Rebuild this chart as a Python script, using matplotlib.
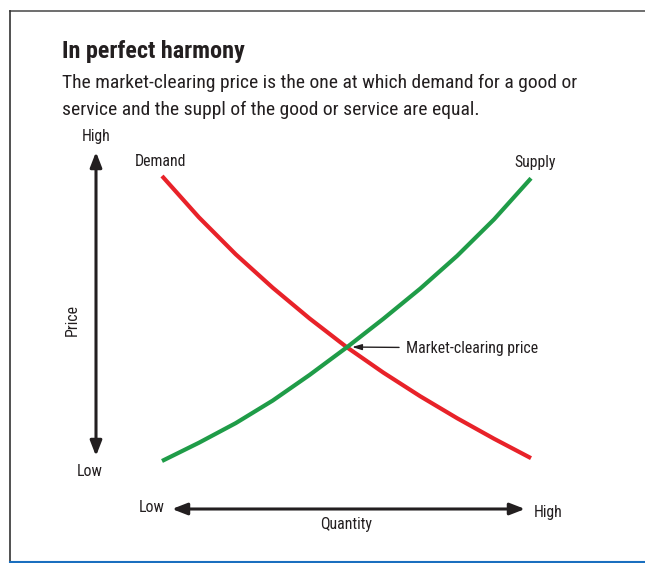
import matplotlib
matplotlib.use("Agg")
import matplotlib.pyplot as plt
from matplotlib import font_manager as fm
from matplotlib.lines import Line2D
from matplotlib.patches import FancyArrowPatch

# ----------------- Data -----------------
quantity = [0, 1, 2, 3, 4, 5, 6, 7, 8, 9, 10]
demand_p = [10.0, 8.55, 7.25, 6.08, 5.0, 4.0, 3.1, 2.27, 1.5, 0.78, 0.1]
supply_p = [0.0, 0.64, 1.33, 2.12, 3.02, 3.98, 4.99, 6.05, 7.20, 8.48, 9.92]
eq_q, eq_p = 5.0, 4.0

title = "In perfect harmony"
subtitle = ["The market-clearing price is the one at which demand for a good or",
            "service and the suppl of the good or service are equal."]

# ----------------- Font: prefer a narrow face -----------------
entries = fm.fontManager.ttflist
names = {f.name for f in entries}
stretch = "normal"
family = "Liberation Sans"
for cand in ["Liberation Sans Narrow", "Roboto Condensed", "Open Sans Condensed",
             "Noto Sans Condensed", "DejaVu Sans Condensed"]:
    if cand in names:
        family = cand
        break
else:
    if any(f.name == "DejaVu Sans" and "condensed" in str(f.stretch) for f in entries):
        family, stretch = "DejaVu Sans", "condensed"
plt.rcParams['font.family'] = [family, 'DejaVu Sans']
plt.rcParams['font.stretch'] = stretch

W, H = 645, 563
TXT = "#231f20"
RED = "#e82229"
GREEN = "#1f9c48"

fig = plt.figure(figsize=(W / 100, H / 100), dpi=100)
renderer = fig.canvas.get_renderer()


def fx(px):
    return px / W


def fy(py):
    return 1 - py / H


def fit(t, width_px):
    """Scale a text so that it is width_px wide."""
    w = t.get_window_extent(renderer).width
    t.set_fontsize(t.get_fontsize() * width_px / w)
    return t.get_fontsize()


# ----------------- Frame -----------------
fig.add_artist(Line2D([fx(10), 1], [fy(11), fy(11)], color="#555555", lw=1.2))
fig.add_artist(Line2D([fx(10), fx(10)], [fy(11), fy(562)], color="#333333", lw=1.2))
fig.add_artist(Line2D([fx(10), 1], [fy(562), fy(562)], color="#1a6fbf", lw=1.5))

# ----------------- Headings -----------------
t = fig.text(fx(62), fy(58), title, fontsize=17, fontweight="bold", color=TXT)
fit(t, 183)
s1 = fig.text(fx(62), fy(88), subtitle[0], fontsize=14, color=TXT)
sub_size = fit(s1, 516)
fig.text(fx(62), fy(115), subtitle[1], fontsize=sub_size, color=TXT)

# size of the small labels, from the width of the callout text
probe = fig.text(0, 0, "Market-clearing price", fontsize=12)
small_size = fit(probe, 132)
probe.remove()

# ----------------- Curves -----------------
ax = fig.add_axes([fx(162), fy(461), (531 - 162) / W, (461 - 176) / H])
ax.set_xlim(0, 10)
ax.set_ylim(0, 10)
ax.axis("off")
ax.plot(quantity, demand_p, color=RED, lw=3, solid_capstyle="butt",
        solid_joinstyle="round", clip_on=False)
ax.plot(quantity, supply_p, color=GREEN, lw=3, solid_capstyle="butt",
        solid_joinstyle="round", clip_on=False)

ax.annotate("Market-clearing price", xy=(eq_q, eq_p), xycoords="data",
            xytext=(fx(406), fy(348)), textcoords="figure fraction",
            va="center", ha="left", fontsize=small_size, color=TXT,
            arrowprops=dict(arrowstyle="-|>,head_length=0.5,head_width=0.15",
                            color=TXT, lw=1, shrinkA=3, shrinkB=4))

# ----------------- Axis arrows and labels -----------------
arrow = dict(arrowstyle="<|-|>,head_length=0.9,head_width=0.35", color=TXT, lw=2.2,
             shrinkA=0, shrinkB=0, mutation_scale=10, transform=fig.transFigure)
fig.add_artist(FancyArrowPatch((fx(96), fy(456)), (fx(96), fy(152)), **arrow))
fig.add_artist(FancyArrowPatch((fx(172), fy(509)), (fx(525), fy(509)), **arrow))

small = dict(fontsize=small_size, color=TXT, ha="center", va="center")
fig.text(fx(96), fy(137), "High", **small)
fig.text(fx(90), fy(472), "Low", **small)
fig.text(fx(72), fy(320), "Price", rotation=90, **small)
fig.text(fx(152), fy(508), "Low", **small)
fig.text(fx(548), fy(512), "High", **small)
fig.text(fx(346), fy(525), "Quantity", **small)
fig.text(fx(160), fy(162), "Demand", **small)
fig.text(fx(535), fy(162), "Supply", **small)

fig.savefig("out.png", dpi=100)
